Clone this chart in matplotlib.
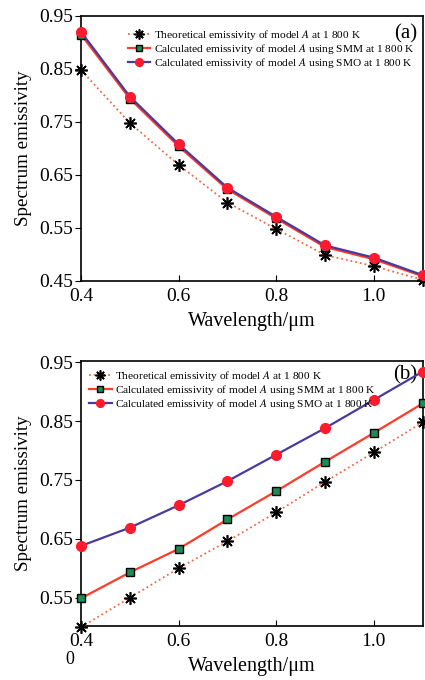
import matplotlib
matplotlib.use("Agg")
import matplotlib.pyplot as plt
import numpy as np

plt.rcParams['font.family'] = ['Liberation Serif', 'DejaVu Serif']
plt.rcParams['mathtext.fontset'] = 'stix'

wavelength = [0.4, 0.5, 0.6, 0.7, 0.8, 0.9, 1.0, 1.1]

# Panel (a)
a_theory = [0.848, 0.748, 0.669, 0.598, 0.548, 0.499, 0.478, 0.452]
a_smm = [0.915, 0.794, 0.704, 0.623, 0.568, 0.514, 0.491, 0.459]
a_smo = [0.920, 0.798, 0.708, 0.626, 0.571, 0.517, 0.494, 0.461]

# Panel (b)
b_theory = [0.500, 0.550, 0.600, 0.646, 0.695, 0.747, 0.797, 0.848]
b_smm = [0.549, 0.593, 0.633, 0.683, 0.731, 0.781, 0.830, 0.880]
b_smo = [0.638, 0.669, 0.707, 0.748, 0.793, 0.838, 0.886, 0.934]

labels = [r"Theoretical emissivity of model $\mathit{A}$ at 1 800 K",
          r"Calculated emissivity of model $\mathit{A}$ using SMM at 1 800 K",
          r"Calculated emissivity of model $\mathit{A}$ using SMO at 1 800 K"]

xticks = [0.4, 0.6, 0.8, 1.0]
a_yticks = [0.45, 0.55, 0.65, 0.75, 0.85, 0.95]
b_yticks = [0.55, 0.65, 0.75, 0.85, 0.95]

fig = plt.figure(figsize=(4.25, 6.8), dpi=100)
ax1 = fig.add_axes([0.1906, 0.5868, 0.804, 0.3897])
ax2 = fig.add_axes([0.1906, 0.0794, 0.804, 0.3897])

theory_c = '#f06a45'
smm_c = '#ff3b2b'
smo_c = '#4a3a9e'

def draw(ax, th, smm, smo, ylim, yticks, leg_loc):
    ax.plot(wavelength, th, linestyle=':', color=theory_c, lw=1.3,
            marker=(8, 2, 0), markersize=9, mfc='black', mec='black', mew=1.2,
            label=labels[0], clip_on=False, zorder=3)
    ax.plot(wavelength, smm, linestyle='-', color=smm_c, lw=1.6,
            marker='s', markersize=6, mfc='#1f8a55', mec='black', mew=1.0,
            label=labels[1], clip_on=False, zorder=4)
    ax.plot(wavelength, smo, linestyle='-', color=smo_c, lw=1.6,
            marker='o', markersize=7, mfc='#ff1a2e', mec='#ff1a2e',
            label=labels[2], clip_on=False, zorder=5)
    ax.set_xlim(0.4, 1.1)
    ax.set_ylim(*ylim)
    ax.set_xticks(xticks)
    ax.set_xticklabels([f"{v:.1f}" for v in xticks])
    ax.set_yticks(yticks)
    ax.set_yticklabels([f"{v:.2f}" for v in yticks])
    ax.tick_params(axis='x', direction='in', length=4, labelsize=14, pad=5)
    ax.tick_params(axis='y', direction='out', length=4, labelsize=14, pad=2)
    ax.set_xlabel("Wavelength/μm", fontsize=14.5, labelpad=5)
    ax.set_ylabel("Spectrum emissivity", fontsize=13.7, labelpad=5)
    for s in ax.spines.values():
        s.set_linewidth(1.2)
    ax.legend(loc=leg_loc, frameon=False, fontsize=8.2, handlelength=2.0,
              handletextpad=0.3, labelspacing=0.02, borderaxespad=0.3,
              markerscale=0.8)

draw(ax1, a_theory, a_smm, a_smo, (0.45, 0.95), a_yticks, 'upper right')
ax1.legend_.set_bbox_to_anchor((1.0, 0.985), transform=ax1.transAxes)
ax1.text(0.985, 0.97, "(a)", transform=ax1.transAxes, ha='right', va='top', fontsize=15)

draw(ax2, b_theory, b_smm, b_smo, (0.502, 0.952), b_yticks, 'upper left')
ax2.legend_.set_bbox_to_anchor((0.0, 1.0), transform=ax2.transAxes)
ax2.text(0.985, 0.985, "(b)", transform=ax2.transAxes, ha='right', va='top', fontsize=15)
fig.text(70 / 425, 1 - 659 / 680, "0", fontsize=13, ha='center', va='center')

fig.savefig("out.png", dpi=100)
